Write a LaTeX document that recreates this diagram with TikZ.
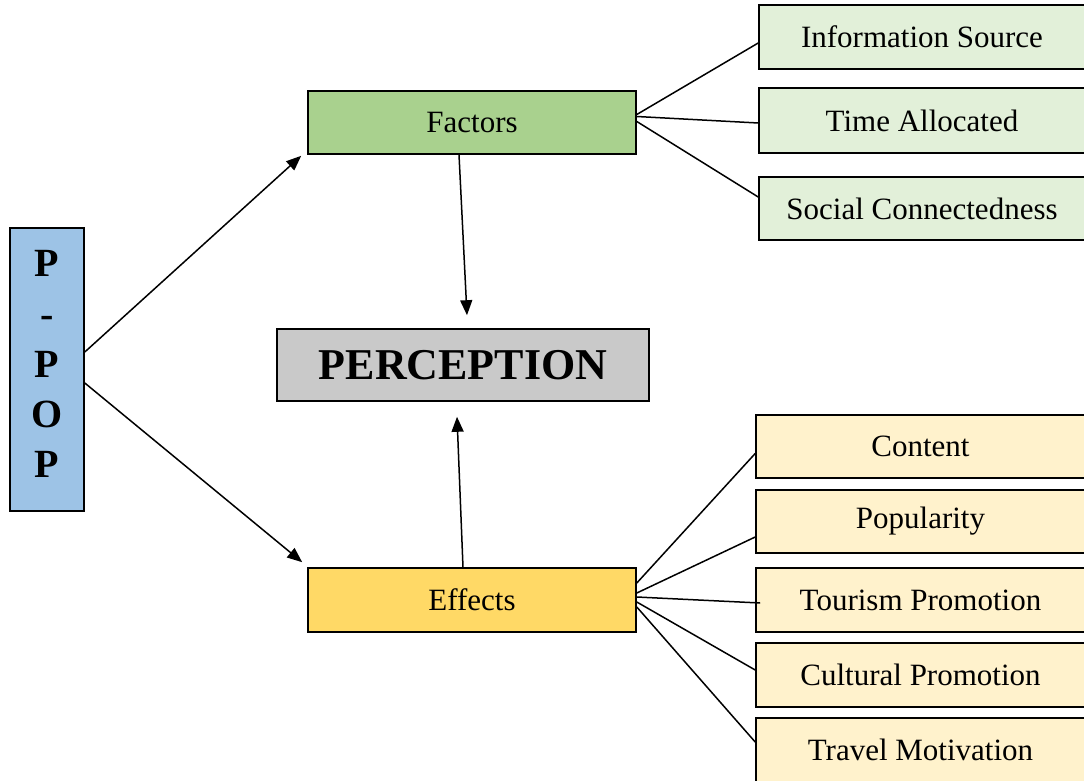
\documentclass[tikz,border=0pt]{standalone}
\usepackage{fontspec}
\setmainfont{Liberation Serif}
\usetikzlibrary{calc,arrows.meta}
\definecolor{ppopblue}{HTML}{9DC3E6}
\definecolor{factgreen}{HTML}{A9D18E}
\definecolor{lightgreen}{HTML}{E2F0D9}
\definecolor{effyellow}{HTML}{FFD966}
\definecolor{lightyellow}{HTML}{FFF2CC}
\definecolor{percgray}{HTML}{C9C9C9}
\tikzset{
  box/.style={draw=black, line width=1.6pt, inner sep=0pt, rectangle, font=\fontsize{31}{36}\selectfont},
  leftbox/.style={box, minimum width=328pt},
  rightgreen/.style={box, fill=lightgreen, minimum width=326pt},
  rightyellow/.style={box, fill=lightyellow, minimum width=329pt},
  arr/.style={line width=1.5pt, -{Triangle[length=15pt,width=12pt]}},
  link/.style={line width=1.5pt},
}
\begin{document}
\begin{tikzpicture}[x=1pt,y=-1pt]
\useasboundingbox (0,0) rectangle (1084,781);
\clip (0,0) rectangle (1084,781);
% left box
\node[box, fill=ppopblue, minimum width=74pt, minimum height=283pt] (ppop) at (47,369.5) {};
\node[inner sep=0pt, anchor=north, align=center, font=\fontsize{40}{50.2}\selectfont\bfseries] (ppoptext) at (47,250.5) {P\\-\\P\\O\\P};
% middle
\node[leftbox, fill=factgreen, minimum height=63pt] (factors) at (472,122.5) {Factors};
\node[leftbox, fill=effyellow, minimum height=64pt] (effects) at (472,600) {Effects};
\node[box, fill=percgray, minimum width=372pt, minimum height=72pt, font=\fontsize{44}{50}\selectfont\bfseries] (perc) at (463,365) {PERCEPTION};
% right green
\node[rightgreen, minimum height=64pt] (info) at (922,37) {Information Source};
\node[rightgreen, minimum height=65pt] (time) at (922,120.5) {Time Allocated};
\node[rightgreen, minimum height=63pt] (social) at (922,208.5) {Social Connectedness};
% right yellow
\node[rightyellow, minimum height=63pt] (content) at (920.5,446.5) {Content};
\node[rightyellow, minimum height=63pt] (popularity) at (920.5,521.5) {Popularity};
\node[rightyellow, minimum height=64pt] (tourism) at (920.5,600) {Tourism Promotion};
\node[rightyellow, minimum height=64pt] (cultural) at (920.5,675) {Cultural Promotion};
\node[rightyellow, minimum height=64pt] (travel) at (920.5,750) {Travel Motivation};
% arrows
\draw[arr] ($(ppop.east)+(0,-17.5)$) -- ($(factors.south west)+(-6,1)$);
\draw[arr] ($(ppop.east)+(0,13.5)$) -- ($(effects.north west)+(-5,-5)$);
\draw[arr] ($(factors.south)+(-13,0)$) -- ($(perc.north)+(4,-13)$);
\draw[arr] ($(effects.north)+(-9,0)$) -- ($(perc.south)+(-6,15)$);
% factor links
\draw[link] ($(factors.east)+(0,-8)$) -- ($(info.west)+(0,6)$);
\draw[link] ($(factors.east)+(0,-6)$) -- ($(time.west)+(0,2.5)$);
\draw[link] ($(factors.east)+(0,-1)$) -- ($(social.west)+(0,-11.5)$);
% effect links
\draw[link] ($(effects.east)+(0,-17)$) -- ($(content.west)+(0,7)$);
\draw[link] ($(effects.east)+(0,-7)$) -- ($(popularity.west)+(0,15.5)$);
\draw[link] ($(effects.east)+(0,-3)$) -- ($(tourism.west)+(5,3)$);
\draw[link] ($(effects.east)+(0,2)$) -- ($(cultural.west)+(0,-5)$);
\draw[link] ($(effects.east)+(0,7)$) -- ($(travel.west)+(0,-8)$);
\end{tikzpicture}
\end{document}
